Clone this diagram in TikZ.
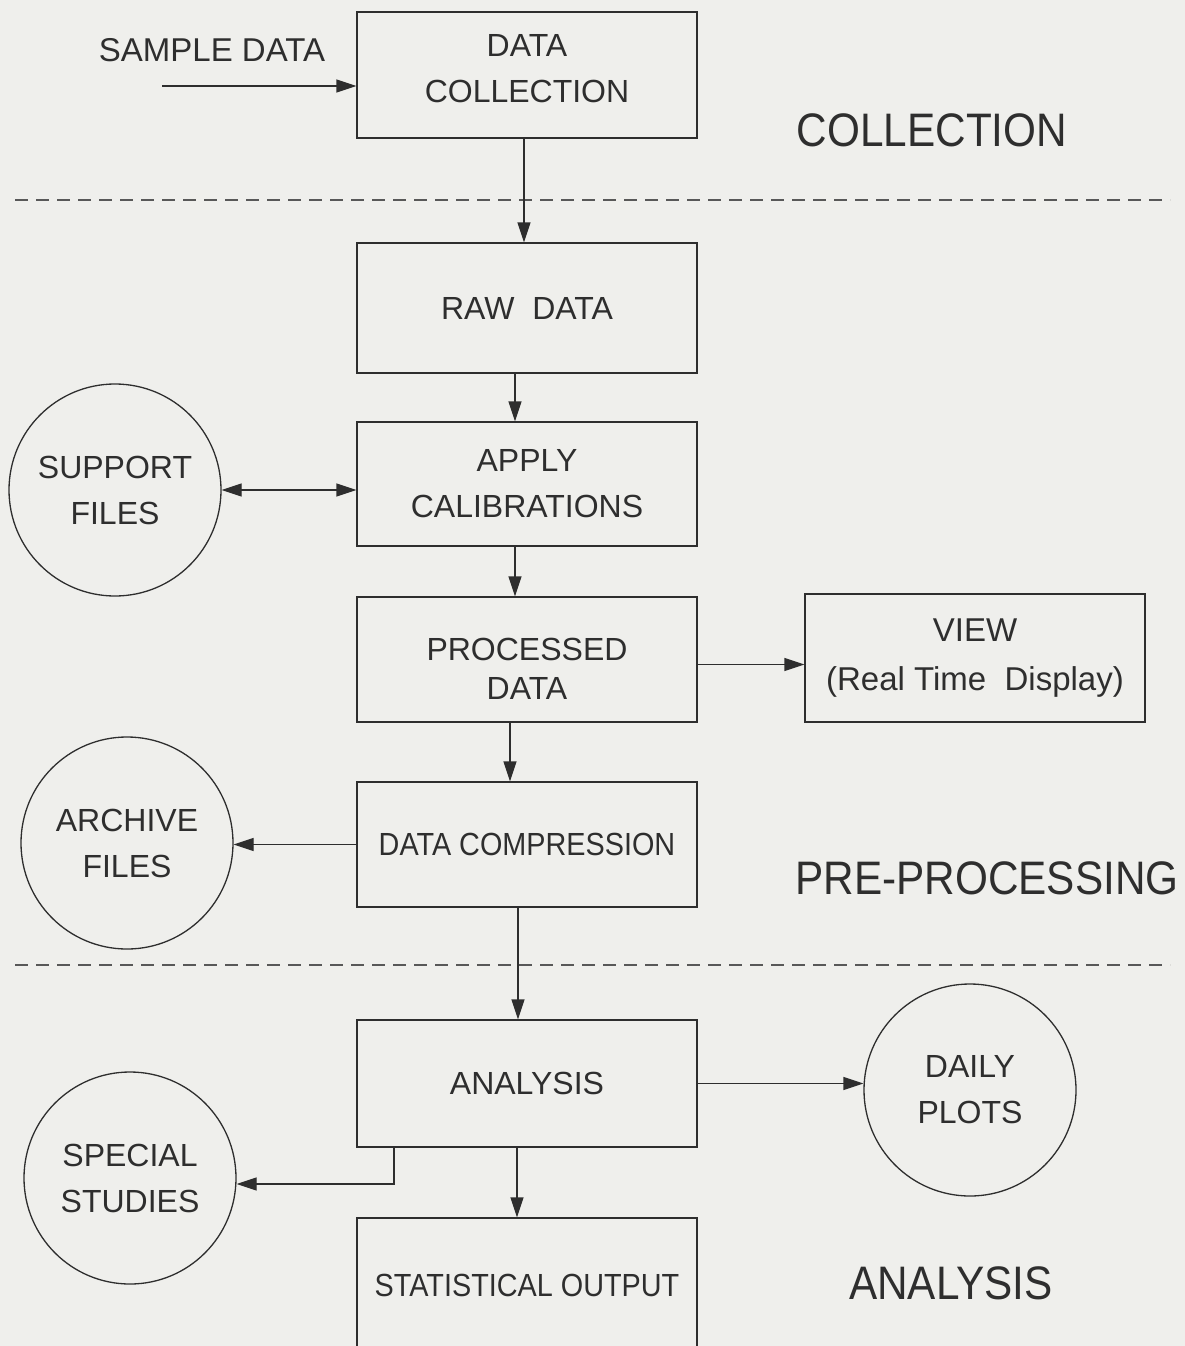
\documentclass[tikz,border=0pt]{standalone}
\usepackage{fontspec}
\setmainfont{Liberation Sans}
\newfontfamily\narrowsf{Liberation Sans}[FakeStretch=0.9]
\usetikzlibrary{arrows.meta,shapes.geometric}
\definecolor{paper}{HTML}{EFEFEC}
\definecolor{ink}{HTML}{2E2E2E}
\tikzset{
  boxtxt/.style={text=ink, align=center, inner sep=0pt, font=\fontsize{32}{46}\selectfont},
  procbox/.style={draw=ink, line width=1.3pt, minimum width=340pt, boxtxt},
  filecirc/.style={draw=ink, line width=1.3pt, circle, minimum size=212pt, boxtxt},
  plain/.style={text=ink, inner sep=0pt, font=\fontsize{33}{46}\selectfont},
  phase/.style={text=ink, inner sep=0pt, font=\narrowsf\fontsize{47}{56}\selectfont},
  tip/.tip={Triangle[length=20pt,width=13pt]},
  arr/.style={draw=ink, line width=1.3pt, -tip},
  arrboth/.style={draw=ink, line width=1.3pt, tip-tip},
  divider/.style={draw=ink!80, line width=1.2pt, dash pattern=on 13pt off 8pt}
}
\begin{document}
\begin{tikzpicture}[x=1pt,y=-1pt]
  \clip (0,0) rectangle (1185,1346);
  \fill[paper] (0,0) rectangle (1185,1346);
  \useasboundingbox (0,0) rectangle (1185,1346);

  % phase dividers
  \draw[divider] (15,200) -- (1170,200);
  \draw[divider] (15,965) -- (1170,965);

  % main processing chain
  \node[procbox, minimum height=126pt,
        label={[boxtxt, name=dctxt, yshift=6pt]center:{DATA\\COLLECTION}}] (dc) at (527,75) {};
  \node[procbox, minimum height=130pt] (raw)   at (527,308)   {RAW\ \ DATA};
  \node[procbox, minimum height=124pt] (apply) at (527,484)   {APPLY\\CALIBRATIONS};
  \node[procbox, minimum height=125pt,
        label={[boxtxt, name=proctxt, yshift=-9pt, font=\fontsize{32}{39}\selectfont]center:{PROCESSED\\DATA}}] (proc) at (527,659.5) {};
  \node[procbox, minimum height=125pt, font=\narrowsf\fontsize{32}{46}\selectfont] (comp) at (527,844.5) {DATA COMPRESSION};
  \node[procbox, minimum height=127pt] (ana)   at (527,1083.5){ANALYSIS};
  \node[procbox, minimum height=134pt, font=\narrowsf\fontsize{32}{46}\selectfont] (stat) at (527,1285) {STATISTICAL OUTPUT};

  % side outputs and files
  \node[procbox, minimum height=128pt, font=\fontsize{33}{49}\selectfont] (view) at (975,658) {VIEW\\(Real Time\ \ Display)};
  \node[filecirc] (sup)   at (115,490)  {SUPPORT\\FILES};
  \node[filecirc] (arch)  at (127,843)  {ARCHIVE\\FILES};
  \node[filecirc] (daily) at (970,1090) {DAILY\\PLOTS};
  \node[filecirc] (spec)  at (130,1178) {SPECIAL\\STUDIES};

  % input and phase labels
  \node[plain] (sample) at (212,50) {SAMPLE DATA};
  \coordinate (sin) at (162,86);
  \node[phase] (lcoll) at (932,130)  {COLLECTION};
  \node[phase] (lpre)  at (987,878)  {PRE-PROCESSING};
  \node[phase] (lana)  at (951,1283) {ANALYSIS};

  % connectors
  \draw[arr] (sin) -- (sin -| dc.west);
  \draw[arr] ([xshift=-3pt]dc.south) -- ([xshift=-3pt]raw.north);
  \draw[arr] ([xshift=-12pt]raw.south) -- ([xshift=-12pt]apply.north);
  \draw[arrboth] (sup.east) -- (sup.east -| apply.west);
  \draw[arr] ([xshift=-12pt]apply.south) -- ([xshift=-12pt]proc.north);
  \draw[arr] ([yshift=-5pt]proc.east) -- ([yshift=-5pt]proc.east -| view.west);
  \draw[arr] ([xshift=-17pt]proc.south) -- ([xshift=-17pt]comp.north);
  \draw[arr] (comp.west) -- (comp.west -| arch.east);
  \draw[arr] ([xshift=-9pt]comp.south) -- ([xshift=-9pt]ana.north);
  \draw[arr] (ana.east) -- (ana.east -| daily.west);
  \draw[arr] ([xshift=-133pt]ana.south) |- ([yshift=-6pt]spec.east);
  \draw[arr] ([xshift=-10pt]ana.south) -- ([xshift=-10pt]stat.north);
\end{tikzpicture}
\end{document}
